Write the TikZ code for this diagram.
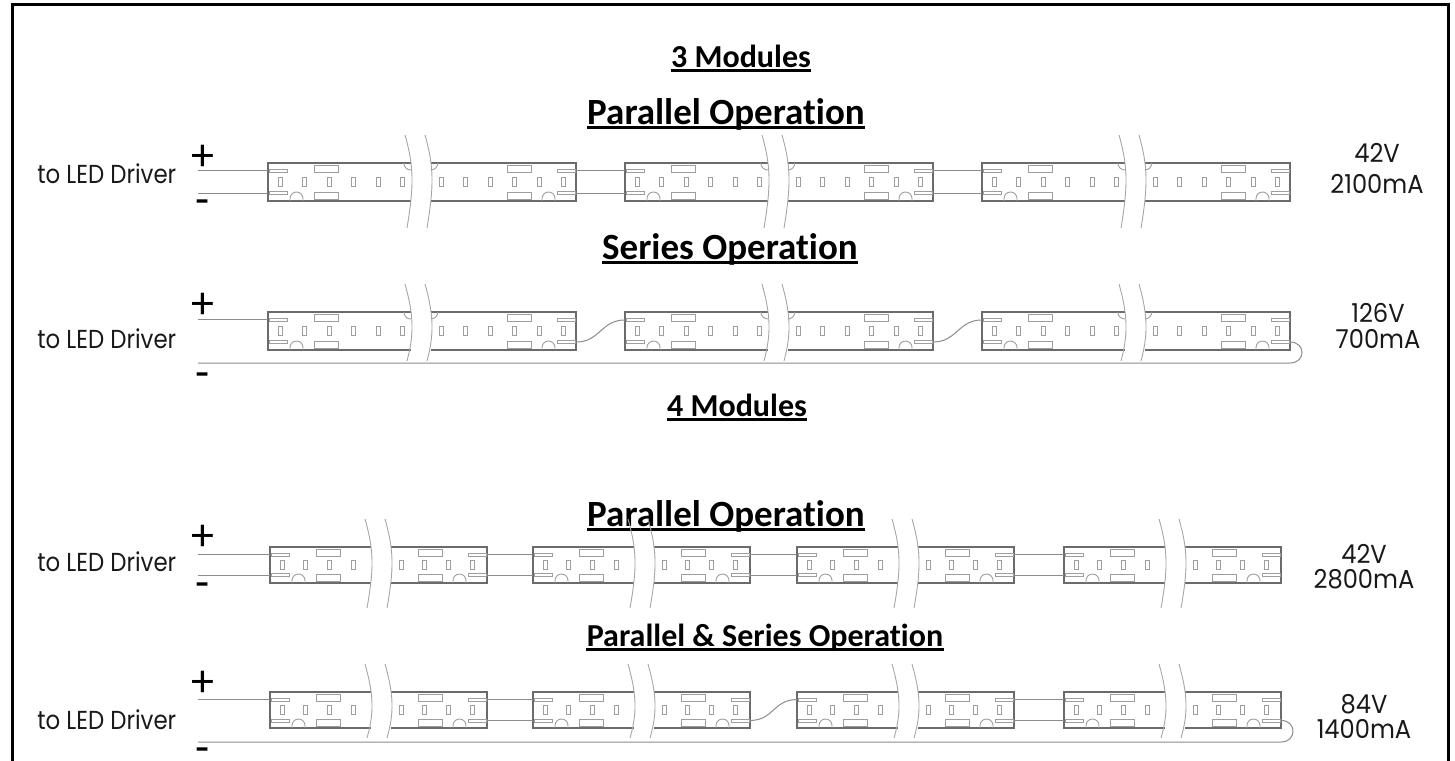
\documentclass[tikz,border=0pt]{standalone}
\usepackage{fontspec}
\newfontfamily\gfont{Poppins}
\newfontfamily\cfont[Ligatures=NoCommon]{Carlito}
\usetikzlibrary{calc}
\tikzset{
  modline/.style={draw=black!58, line width=0.6pt},
  moddetail/.style={draw=black!38, line width=0.45pt},
  brk/.style={draw=black!35, line width=0.45pt},
  wire/.style={draw=black!45, line width=0.5pt},
  frame/.style={draw=black, line width=1.6pt},
  lbl/.style={font=\gfont\fontsize{13}{14}\selectfont, inner sep=0pt, text=black!90},
  pm/.style={font=\cfont\fontsize{23}{23}\selectfont, inner sep=0pt},
  head/.style={font=\cfont\bfseries\fontsize{16}{16}\selectfont, inner sep=0pt},
  headbig/.style={font=\cfont\bfseries\fontsize{18.5}{18.5}\selectfont, inner sep=0pt},
}
\newif\ifnotch
\def\brkbot{27}
% #1 name, #2 x, #3 y, #4 W, #5 H, #6 n LEDs per half, #7 LED spacing, #8 break x
\newcommand{\ledmodule}[8]{%
\begin{scope}[shift={(#2,#3)}]
 \pgfmathsetmacro\mW{#4}\pgfmathsetmacro\mH{#5}%
 \pgfmathsetmacro\bA{#8}\pgfmathsetmacro\bB{#8+20}%
 \pgfmathsetmacro\ta{0.21*\mH}\pgfmathsetmacro\tb{0.79*\mH}%
 \draw[modline] (\bA+2.8,0) -- (0,0) -- (0,\mH) -- (\bA+3,\mH);
 \draw[modline] (\bB+2.8,0) -- (\mW,0) -- (\mW,\mH) -- (\bB+3,\mH);
 \draw[brk] (\bA-3,-28) .. controls (\bA+6,0.1*\mH) and (\bA+6,0.6*\mH) .. (\bA-1,\mH+\brkbot);
 \draw[brk] (\bB-3,-28) .. controls (\bB+6,0.1*\mH) and (\bB+6,0.6*\mH) .. (\bB-1,\mH+\brkbot);
 \ifnotch
  \draw[moddetail] (\bA-4.2,0) arc (180:90:7);
  \draw[moddetail] (\bB+2.8,7) arc (90:0:7);
 \fi
 \foreach \i in {1,...,#6} {
  \draw[moddetail] ({10+(\i-1)*#7},0.38*\mH) rectangle ++(4,0.24*\mH);
  \draw[moddetail] ({\bB+11+(\i-1)*#7},0.38*\mH) rectangle ++(4,0.24*\mH);
 }
 % left end
 \draw[moddetail] (1,\ta-1.5) rectangle (19,\ta+1.5);
 \draw[moddetail] (1,\tb-1.5) rectangle (19,\tb+1.5);
 \draw[moddetail] (22,\mH) -- (22,\mH-2.5) arc (180:360:6.5) -- (35,\mH);
 \draw[moddetail] (46,0.06*\mH) rectangle (70,0.26*\mH);
 \draw[moddetail] (46,0.77*\mH) rectangle (70,0.95*\mH);
 % right end
 \draw[moddetail] (\mW-19,\ta-1.5) rectangle (\mW-1,\ta+1.5);
 \draw[moddetail] (\mW-19,\tb-1.5) rectangle (\mW-1,\tb+1.5);
 \draw[moddetail] (\mW-34,\mH) -- (\mW-34,\mH-2.5) arc (180:360:6.5) -- (\mW-21,\mH);
 \draw[moddetail] (\mW-69,0.06*\mH) rectangle (\mW-45,0.26*\mH);
 \draw[moddetail] (\mW-69,0.77*\mH) rectangle (\mW-45,0.95*\mH);
 \coordinate (#1-inp) at (0,\ta);
 \coordinate (#1-inn) at (0,\tb);
 \coordinate (#1-outp) at (\mW,\ta);
 \coordinate (#1-outn) at (\mW,\tb);
\end{scope}}
\newcommand{\heading}[5]{%
 \node[#5, anchor=base] (#1) at (#2,#3) {#4};
 \draw[line width=1.4pt] ($(#1.base west)+(0,3.5)$) -- ($(#1.base east)+(0,3.5)$);}
\begin{document}
\begin{tikzpicture}[x=0.5pt,y=-0.5pt]
\useasboundingbox (0,0) rectangle (1455,760);
\draw[frame] (12.5,762) -- (12.5,4.7) -- (1448.5,4.7) -- (1448.5,762);
\coordinate (drv) at (198,0);

% headings
\heading{h1}{741}{67}{3 Modules}{head}
\heading{h2}{726}{124}{Parallel Operation}{headbig}
\heading{h3}{730}{259}{Series Operation}{headbig}
\heading{h4}{737}{416}{4 Modules}{head}
\heading{h5}{726}{526}{Parallel Operation}{headbig}
\heading{h6}{765}{646}{Parallel \& Series Operation}{head}

% left labels
\foreach \n/\yb/\yp/\ym in {1/183/170.6/214, 2/348/318.6/387.6, 3/571/550.6/597.6} {
  \node[lbl, anchor=base west] (drv\n) at (37,\yb) {\scalebox{0.88}[1]{to LED Driver}};
  \node[pm, anchor=base] (plus\n) at (202.5,\yp) {+};
  \node[pm, anchor=base] (minus\n) at (202.5,\ym) {-};
}
\node[lbl, anchor=base west] (drv4) at (37,729) {\scalebox{0.88}[1]{to LED Driver}};
\node[pm, anchor=base] (plus4) at (202.5,696.6) {+};
\node[pm, anchor=base] (minus4) at (202.5,756) {\raisebox{-3pt}[\height][0pt]{-}};

% right labels
\node[lbl, anchor=base] (v1) at (1377,162) {\scalebox{0.93}[1]{42V}};
\node[lbl, anchor=base] (i1) at (1377,193) {\scalebox{0.93}[1]{2100mA}};
\node[lbl, anchor=base] (v2) at (1378,322) {\scalebox{0.93}[1]{126V}};
\node[lbl, anchor=base] (i2) at (1378,348) {\scalebox{0.93}[1]{700mA}};
\node[lbl, anchor=base] (v3) at (1364,563) {\scalebox{0.93}[1]{42V}};
\node[lbl, anchor=base] (i3) at (1364,588) {\scalebox{0.93}[1]{2800mA}};
\node[lbl, anchor=base] (v4) at (1364,713) {\scalebox{0.93}[1]{84V}};
\node[lbl, anchor=base] (i4) at (1364,738) {\scalebox{0.93}[1]{1400mA}};

% Row 1: 3 modules parallel
\notchtrue \def\brkbot{27}
\ledmodule{r1a}{268}{163}{308}{38}{6}{24.5}{140}
\ledmodule{r1b}{625}{163}{308}{38}{6}{24.5}{140}
\ledmodule{r1c}{982}{163}{308}{38}{6}{24.5}{140}
\draw[wire] (r1a-inp -| drv) -- (r1a-inp);
\draw[wire] (r1a-inn -| drv) -- (r1a-inn);
\draw[wire] (r1a-outp) -- (r1b-inp);
\draw[wire] (r1a-outn) -- (r1b-inn);
\draw[wire] (r1b-outp) -- (r1c-inp);
\draw[wire] (r1b-outn) -- (r1c-inn);

% Row 2: 3 modules series
\def\brkbot{11}
\ledmodule{r2a}{268}{312}{308}{38}{6}{24.5}{140}
\ledmodule{r2b}{625}{312}{308}{38}{6}{24.5}{140}
\ledmodule{r2c}{982}{312}{308}{38}{6}{24.5}{140}
\coordinate (r2ret) at (1290,363);
\draw[wire] (r2a-inp -| drv) -- (r2a-inp);
\draw[wire] (r2a-outn) .. controls +(24,0) and +(-24,0) .. (r2b-inp);
\draw[wire] (r2b-outn) .. controls +(24,0) and +(-24,0) .. (r2c-inp);
\draw[wire] (r2c-outn) .. controls +(16,0) and +(16,0) .. (r2ret) -- (r2ret -| drv);

% Row 3: 4 modules parallel
\notchfalse \def\brkbot{25}
\ledmodule{r3a}{270}{547}{217}{36}{4}{23.7}{98}
\ledmodule{r3b}{533}{547}{217}{36}{4}{23.7}{98}
\ledmodule{r3c}{797}{547}{217}{36}{4}{23.7}{98}
\ledmodule{r3d}{1064}{547}{217}{36}{4}{23.7}{98}
\draw[wire] (r3a-inp -| drv) -- (r3a-inp);
\draw[wire] (r3a-inn -| drv) -- (r3a-inn);
\draw[wire] (r3a-outp) -- (r3b-inp);
\draw[wire] (r3a-outn) -- (r3b-inn);
\draw[wire] (r3b-outp) -- (r3c-inp);
\draw[wire] (r3b-outn) -- (r3c-inn);
\draw[wire] (r3c-outp) -- (r3d-inp);
\draw[wire] (r3c-outn) -- (r3d-inn);

% Row 4: 4 modules parallel & series
\def\brkbot{10}
\ledmodule{r4a}{270}{692}{217}{36}{4}{23.7}{98}
\ledmodule{r4b}{533}{692}{217}{36}{4}{23.7}{98}
\ledmodule{r4c}{797}{692}{217}{36}{4}{23.7}{98}
\ledmodule{r4d}{1064}{692}{217}{36}{4}{23.7}{98}
\coordinate (r4ret) at (1281,742);
\draw[wire] (r4a-inp -| drv) -- (r4a-inp);
\draw[wire] (r4a-outp) -- (r4b-inp);
\draw[wire] (r4a-outn) -- (r4b-inn);
\draw[wire] (r4b-outn) .. controls +(24,0) and +(-24,0) .. (r4c-inp);
\draw[wire] (r4c-outp) -- (r4d-inp);
\draw[wire] (r4c-outn) -- (r4d-inn);
\draw[wire] (r4d-outn) .. controls +(16,0) and +(16,0) .. (r4ret) -- (r4ret -| drv);
\end{tikzpicture}
\end{document}
